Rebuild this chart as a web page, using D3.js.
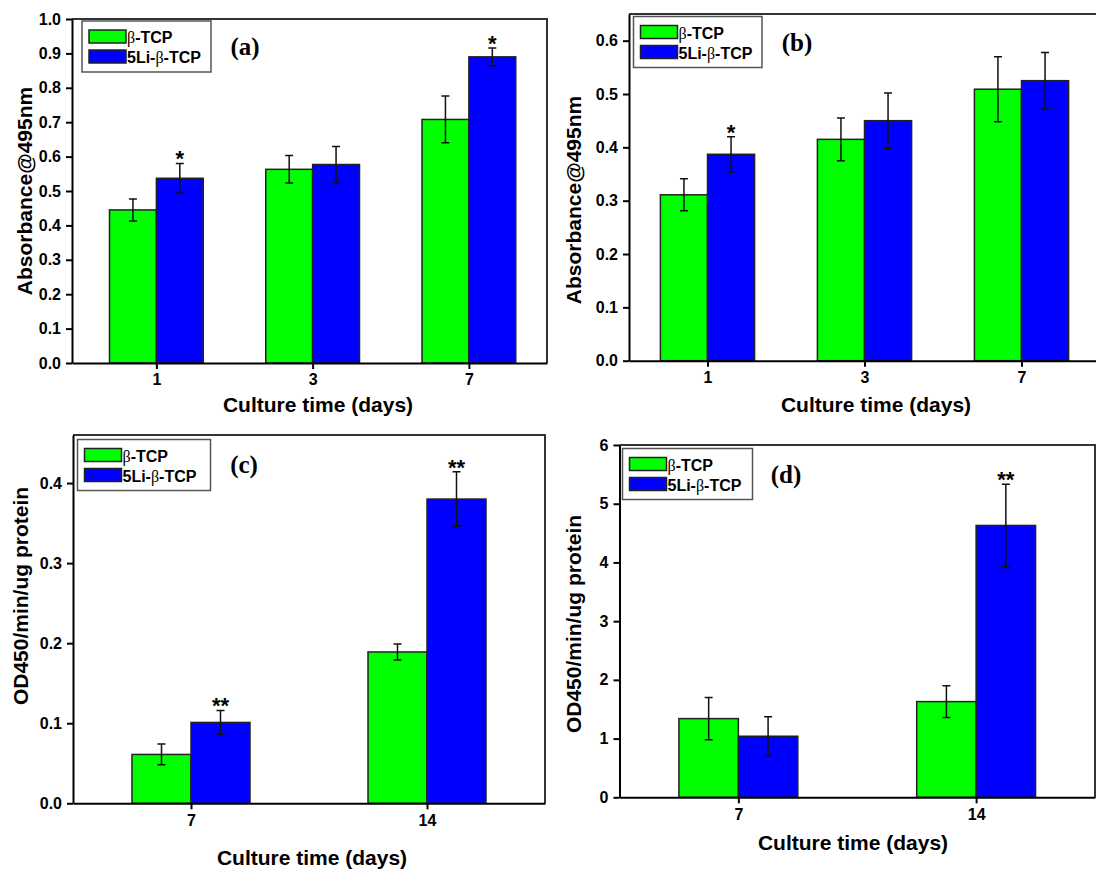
<!DOCTYPE html>
<html lang="en">
<head>
<meta charset="utf-8">
<script src="https://cdn.jsdelivr.net/npm/d3@7"></script>
<style>
    body { margin: 0; background: #fff; }
    .axis path, .axis line { stroke: #000; stroke-width: 2px; }
    .axis text { font-family: "Liberation Sans", Arial, sans-serif; font-size: 16px; font-weight: bold; fill: #000; }
    .lbl { font-family: "Liberation Sans", Arial, sans-serif; font-size: 21px; font-weight: bold; }
    .leg { font-family: "Liberation Sans", Arial, sans-serif; font-size: 16px; font-weight: bold; }
    .beta { font-family: "Liberation Serif", "Times New Roman", serif; font-weight: normal; }
    .tag { font-family: "Liberation Serif", "Times New Roman", serif; font-size: 25px; font-weight: bold; }
    .star { font-family: "Liberation Sans", Arial, sans-serif; font-size: 22px; font-weight: bold; }
</style>
</head>
<body>
<script>
// ---- data ----
const daysAB = ["1", "3", "7"];
const daysCD = ["7", "14"];
const seriesNames = ["β-TCP", "5Li-β-TCP"];

// (a) absorbance, cell proliferation
const tcpA = [0.445, 0.563, 0.708];
const tcpAErr = [0.032, 0.040, 0.068];
const liA = [0.537, 0.577, 0.890];
const liAErr = [0.043, 0.052, 0.026];
const starsA = ["*", "", "*"];
const ticksA = [0, 0.1, 0.2, 0.3, 0.4, 0.5, 0.6, 0.7, 0.8, 0.9, 1.0];

// (b)
const tcpB = [0.311, 0.415, 0.509];
const tcpBErr = [0.030, 0.040, 0.061];
const liB = [0.387, 0.450, 0.525];
const liBErr = [0.033, 0.052, 0.053];
const starsB = ["*", "", ""];
const ticksB = [0, 0.1, 0.2, 0.3, 0.4, 0.5, 0.6];

// (c) ALP activity
const tcpC = [0.061, 0.189];
const tcpCErr = [0.013, 0.010];
const liC = [0.101, 0.380];
const liCErr = [0.015, 0.034];
const starsC = ["**", "**"];
const ticksC = [0, 0.1, 0.2, 0.3, 0.4];

// (d)
const tcpD = [1.34, 1.63];
const tcpDErr = [0.36, 0.27];
const liD = [1.04, 4.63];
const liDErr = [0.33, 0.70];
const starsD = ["", "**"];
const ticksD = [0, 1, 2, 3, 4, 5, 6];

const colors = ["#00ff00", "#0000ff"];

const svg = d3.select("body").append("svg")
    .attr("width", 1096)
    .attr("height", 870);

function drawPanel(p) {
    let x = d3.scaleLinear().domain(p.xDomain).range([p.left, p.right]);
    let y = d3.scaleLinear().domain(p.yDomain).range([p.bottom, p.top]);
    let step = x(1) - x(0);
    let bw = step * p.barFrac;
    let g = svg.append("g");

    // frame top / right
    g.append("path")
        .attr("d", "M" + p.left + "," + p.top + "H" + p.right + "V" + p.bottom)
        .attr("fill", "none")
        .attr("stroke", "#333")
        .attr("stroke-width", 2);

    let groups = [
        { vals: p.tcp, errs: p.tcpErr, off: -1 },
        { vals: p.li, errs: p.liErr, off: 0 }
    ];

    groups.forEach((s, si) => {
        g.selectAll(null)
            .data(s.vals)
            .enter()
            .append("rect")
            .attr("x", (d, i) => x(i) + s.off * bw)
            .attr("y", (d) => y(d))
            .attr("width", bw)
            .attr("height", (d) => y(0) - y(d))
            .attr("fill", colors[si])
            .attr("stroke", "#222")
            .attr("stroke-width", 1.5);
    });

    groups.forEach((s, si) => {
        s.vals.forEach((v, i) => {
            let cx = x(i) + s.off * bw + bw / 2;
            let hi = y(v + s.errs[i]), lo = y(v - s.errs[i]);
            g.append("path")
                .attr("d", "M" + cx + "," + hi + "V" + lo +
                           "M" + (cx - 4) + "," + hi + "H" + (cx + 4) +
                           "M" + (cx - 4) + "," + lo + "H" + (cx + 4))
                .attr("stroke", "#111")
                .attr("stroke-width", 1.5)
                .attr("fill", "none");
        });
    });

    // significance marks above the 5Li bars
    p.stars.forEach((st, i) => {
        if (!st) return;
        g.append("text")
            .attr("class", "star")
            .attr("x", x(i) + bw / 2)
            .attr("y", y(p.li[i] + p.liErr[i]) + 3)
            .attr("text-anchor", "middle")
            .text(st);
    });

    let xAxis = d3.axisBottom(x)
        .tickValues(p.days.map((d, i) => i))
        .tickFormat((i) => p.days[i])
        .tickSize(6)
        .tickSizeOuter(0)
        .tickPadding(5);
    g.append("g")
        .attr("class", "axis")
        .attr("transform", "translate(0," + p.bottom + ")")
        .call(xAxis);

    let yAxis = d3.axisLeft(y)
        .tickValues(p.ticks)
        .tickFormat(p.fmt)
        .tickSize(6)
        .tickSizeOuter(0)
        .tickPadding(5);
    g.append("g")
        .attr("class", "axis")
        .attr("transform", "translate(" + p.left + ",0)")
        .call(yAxis);

    // axis titles
    g.append("text")
        .attr("class", "lbl")
        .attr("x", p.xLabel[0])
        .attr("y", p.xLabel[1])
        .attr("text-anchor", "middle")
        .text("Culture time (days)");
    g.append("text")
        .attr("class", "lbl")
        .attr("transform", "translate(" + p.yLabel[0] + "," + p.yLabel[1] + ") rotate(-90)")
        .attr("text-anchor", "middle")
        .text(p.yTitle);

    // legend
    let lx = p.legend[0], ly = p.legend[1];
    g.append("rect")
        .attr("x", lx).attr("y", ly)
        .attr("width", p.legend[2]).attr("height", 51)
        .attr("fill", "#fff")
        .attr("stroke", "#555")
        .attr("stroke-width", 1.5);
    seriesNames.forEach((name, si) => {
        g.append("rect")
            .attr("x", lx + 7).attr("y", ly + 9 + si * 20)
            .attr("width", 37).attr("height", 13)
            .attr("fill", colors[si])
            .attr("stroke", "#222")
            .attr("stroke-width", 1.5);
        let t = g.append("text")
            .attr("class", "leg")
            .attr("x", lx + 45)
            .attr("y", ly + 22 + si * 20);
        name.split("β").forEach((part, k) => {
            if (k > 0) t.append("tspan").attr("class", "beta").text("β");
            t.append("tspan").text(part);
        });
    });

    g.append("text")
        .attr("class", "tag")
        .attr("x", p.tag[0])
        .attr("y", p.tag[1])
        .attr("text-anchor", "middle")
        .text(p.tagText);
}

const fmt1 = d3.format(".1f");
const fmt0 = d3.format("d");

drawPanel({
    days: daysAB, tcp: tcpA, tcpErr: tcpAErr, li: liA, liErr: liAErr, stars: starsA,
    ticks: ticksA, fmt: fmt1, yDomain: [0, 1.0], xDomain: [-0.54, 2.5], barFrac: 0.3,
    left: 72, right: 547, top: 19, bottom: 363,
    xLabel: [318, 412], yLabel: [32, 191], yTitle: "Absorbance@495nm",
    legend: [82, 21, 129], tag: [245, 55], tagText: "(a)"
});
drawPanel({
    days: daysAB, tcp: tcpB, tcpErr: tcpBErr, li: liB, liErr: liBErr, stars: starsB,
    ticks: ticksB, fmt: fmt1, yDomain: [0, 0.65], xDomain: [-0.5, 2.5], barFrac: 0.3,
    left: 629, right: 1100, top: 14, bottom: 360.7,
    xLabel: [876, 412], yLabel: [581, 200], yTitle: "Absorbance@495nm",
    legend: [633.5, 16.5, 128.5], tag: [797, 51], tagText: "(b)"
});
drawPanel({
    days: daysCD, tcp: tcpC, tcpErr: tcpCErr, li: liC, liErr: liCErr, stars: starsC,
    ticks: ticksC, fmt: fmt1, yDomain: [0, 0.46], xDomain: [-0.5, 1.5], barFrac: 0.25,
    left: 73, right: 545, top: 435, bottom: 803.3,
    xLabel: [312, 865], yLabel: [28, 596], yTitle: "OD450/min/ug protein",
    legend: [77.5, 439.5, 133], tag: [244, 473], tagText: "(c)"
});
drawPanel({
    days: daysCD, tcp: tcpD, tcpErr: tcpDErr, li: liD, liErr: liDErr, stars: starsD,
    ticks: ticksD, fmt: fmt0, yDomain: [0, 6], xDomain: [-0.5, 1.5], barFrac: 0.25,
    left: 619.5, right: 1095, top: 445, bottom: 797.3,
    xLabel: [853, 850], yLabel: [581, 624], yTitle: "OD450/min/ug protein",
    legend: [622.5, 448.5, 130], tag: [786, 483], tagText: "(d)"
});
</script>
</body>
</html>
